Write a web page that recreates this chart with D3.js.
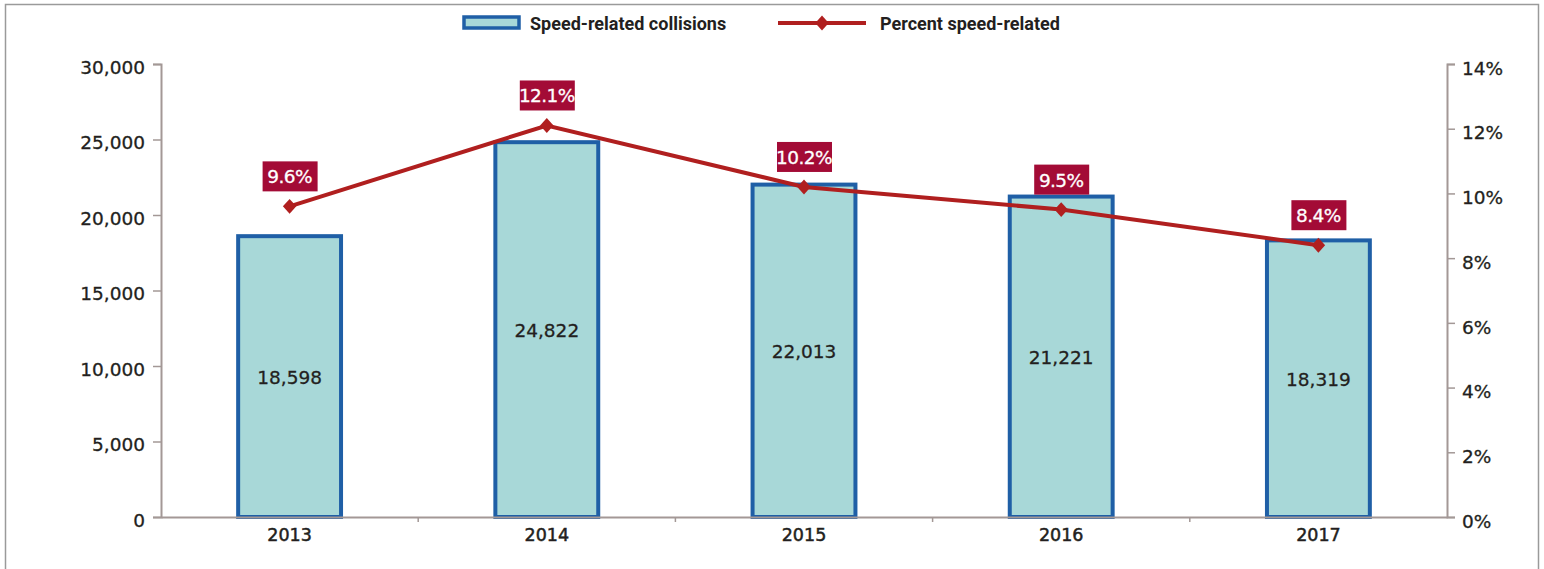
<!DOCTYPE html>
<html>
<head>
<meta charset="utf-8">
<script src="https://cdn.jsdelivr.net/npm/d3@7"></script>
<style>
  body { margin: 0; background: #fff; }
  .tick-label { font-family: "DejaVu Sans", sans-serif; font-size: 18.5px; fill: #231f20; stroke: #231f20; stroke-width: 0.3px; }
  .legend-text { font-family: "Liberation Sans Narrow", "Roboto", sans-serif; font-weight: bold; font-size: 18px; fill: #231f20; }
</style>
</head>
<body>
<div id="chart"></div>
<script>
// data
const years = ["2013", "2014", "2015", "2016", "2017"];
const collisions = [18598, 24822, 22013, 21221, 18319];
const percents = [9.6, 12.1, 10.2, 9.5, 8.4];
const leftTicks = [0, 5000, 10000, 15000, 20000, 25000, 30000];
const rightTicks = [0, 2, 4, 6, 8, 10, 12, 14];

const width = 1544, height = 569;
const margin = {top: 64, right: 97, bottom: 52, left: 161};

const barFill = "#a8d8d8", barStroke = "#1f5fa6";
const lineColor = "#b01f1f", labelBox = "#a30b36", axisColor = "#a39896";

let svg = d3.select("#chart")
    .append("svg")
    .attr("width", width)
    .attr("height", height);

// outer frame
svg.append("rect")
    .attr("x", 5.5).attr("y", 4.5)
    .attr("width", 1533).attr("height", 620)
    .attr("fill", "none")
    .attr("stroke", "#9a9a9a")
    .attr("stroke-width", 1.5);

let x = d3.scaleBand()
    .domain(years)
    .range([margin.left, width - margin.right])
    .paddingInner(0.6)
    .paddingOuter(0.3);

let yLeft = d3.scaleLinear()
    .domain([0, 30000])
    .range([height - margin.bottom, margin.top]);

let yRight = d3.scaleLinear()
    .domain([0, 14])
    .range([height - margin.bottom, margin.top]);

// bars
svg.append("g")
    .selectAll("rect")
    .data(years)
    .enter()
    .append("rect")
    .attr("x", d => x(d))
    .attr("y", (d, i) => yLeft(collisions[i]))
    .attr("width", x.bandwidth())
    .attr("height", (d, i) => yLeft(0) - yLeft(collisions[i]))
    .attr("fill", barFill)
    .attr("stroke", barStroke)
    .attr("stroke-width", 4);

// values inside bars
svg.append("g")
    .selectAll("text")
    .data(years)
    .enter()
    .append("text")
    .attr("class", "tick-label")
    .attr("x", d => x(d) + x.bandwidth() / 2)
    .attr("y", (d, i) => (yLeft(collisions[i]) + yLeft(0)) / 2)
    .attr("dy", "0.4em")
    .style("text-anchor", "middle")
    .text((d, i) => d3.format(",")(collisions[i]));

// left axis
let leftAxis = svg.append("g")
    .attr("transform", `translate(${margin.left},0)`)
    .call(d3.axisLeft(yLeft).tickValues(leftTicks).tickFormat(d3.format(",")).tickSize(8).tickPadding(8));

// right axis
let rightAxis = svg.append("g")
    .attr("transform", `translate(${width - margin.right},0)`)
    .call(d3.axisRight(yRight).tickValues(rightTicks).tickFormat(d => d + "%").tickSize(8).tickPadding(7));

// bottom axis
let bottomAxis = svg.append("g")
    .attr("transform", `translate(0,${height - margin.bottom})`)
    .call(d3.axisBottom(x).tickSize(0).tickPadding(12));

[leftAxis, rightAxis, bottomAxis].forEach(function (g) {
    g.select(".domain").attr("stroke", axisColor).attr("stroke-width", 2);
    g.selectAll(".tick line").attr("stroke", axisColor).attr("stroke-width", 1.5);
    g.selectAll(".tick text")
        .attr("class", "tick-label")
        .attr("font-size", null)
        .attr("font-family", null)
        .attr("fill", null);
});
// labels sit a little below their ticks in the original
leftAxis.selectAll(".tick text").attr("dy", "0.5em");
rightAxis.selectAll(".tick text").attr("dy", "0.55em");
bottomAxis.selectAll(".tick text").style("font-size", "17.5px").style("stroke-width", 0.5);

// small separators between year groups
bottomAxis.selectAll(".sep")
    .data(years.slice(1))
    .enter()
    .append("line")
    .attr("x1", d => x(d) - x.step() * x.paddingInner() / 2)
    .attr("x2", d => x(d) - x.step() * x.paddingInner() / 2)
    .attr("y1", 0)
    .attr("y2", 5)
    .attr("stroke", axisColor)
    .attr("stroke-width", 1.5);

// percent line
let line = d3.line()
    .x((d, i) => x(years[i]) + x.bandwidth() / 2)
    .y(d => yRight(d));

svg.append("path")
    .datum(percents)
    .attr("d", line)
    .attr("fill", "none")
    .attr("stroke", lineColor)
    .attr("stroke-width", 4);

let diamond = d3.symbol().type(d3.symbolDiamond).size(100);

svg.append("g")
    .selectAll("path")
    .data(percents)
    .enter()
    .append("path")
    .attr("d", diamond)
    .attr("transform", (d, i) => `translate(${x(years[i]) + x.bandwidth() / 2},${yRight(d)}) scale(1.25,0.8)`)
    .attr("fill", lineColor);

// percent labels
let labels = svg.append("g")
    .selectAll("g")
    .data(percents)
    .enter()
    .append("g")
    .attr("transform", (d, i) => `translate(${x(years[i]) + x.bandwidth() / 2},${yRight(d) - 15})`);

labels.append("rect")
    .attr("x", -27)
    .attr("y", -30)
    .attr("width", 55)
    .attr("height", 30)
    .attr("fill", labelBox);

labels.append("text")
    .attr("y", -8)
    .style("text-anchor", "middle")
    .style("font-family", "DejaVu Sans, sans-serif")
    .style("font-size", "18.5px")
    .style("letter-spacing", "-0.6px")
    .style("fill", "#fff")
    .style("stroke", "#fff")
    .style("stroke-width", 0.3)
    .text(d => d.toFixed(1) + "%");

// legend
let legend = svg.append("g");
legend.append("rect")
    .attr("x", 464).attr("y", 17)
    .attr("width", 55).attr("height", 11)
    .attr("fill", barFill)
    .attr("stroke", barStroke)
    .attr("stroke-width", 3.5);
legend.append("text")
    .attr("class", "legend-text")
    .attr("x", 530).attr("y", 30)
    .text("Speed-related collisions");

legend.append("line")
    .attr("x1", 778).attr("x2", 866)
    .attr("y1", 23).attr("y2", 23)
    .attr("stroke", lineColor)
    .attr("stroke-width", 4);
legend.append("path")
    .attr("d", diamond)
    .attr("transform", "translate(822,23) scale(1.25,0.8)")
    .attr("fill", lineColor);
legend.append("text")
    .attr("class", "legend-text")
    .attr("x", 880).attr("y", 30)
    .text("Percent speed-related");
</script>
</body>
</html>
